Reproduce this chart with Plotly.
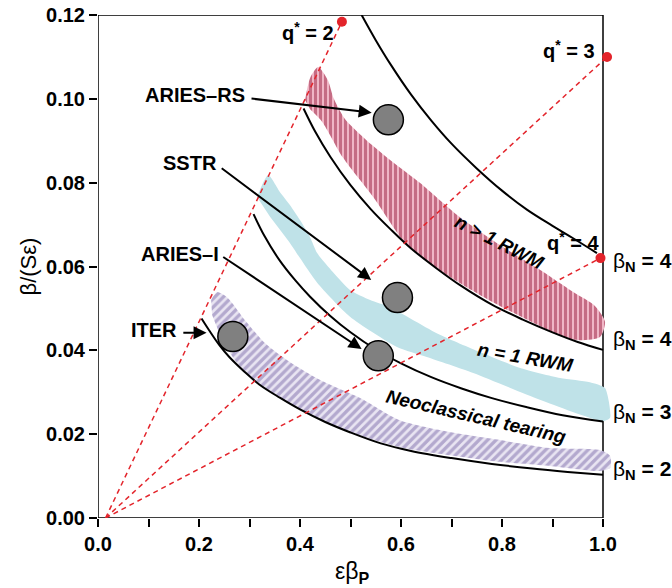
import plotly.graph_objects as go

# ---------------- data ----------------
x_tickvals = [0.0, 0.2, 0.4, 0.6, 0.8, 1.0]
x_ticktext = ["0.0", "0.2", "0.4", "0.6", "0.8", "1.0"]
y_tickvals = [0.0, 0.02, 0.04, 0.06, 0.08, 0.10, 0.12]
y_ticktext = ["0.00", "0.02", "0.04", "0.06", "0.08", "0.10", "0.12"]

# beta_N contours
bn2_x = [0.205, 0.22, 0.24, 0.26, 0.29, 0.32, 0.36, 0.40, 0.45, 0.50, 0.56, 0.62, 0.70, 0.78, 0.86, 0.93, 1.0]
bn2_y = [0.0476, 0.0448, 0.0413, 0.0384, 0.0349, 0.0318, 0.0287, 0.0259, 0.0229, 0.0204, 0.0178, 0.0160, 0.0143, 0.0129, 0.0118, 0.0110, 0.0103]
bn3_x = [0.308, 0.33, 0.36, 0.39, 0.42, 0.46, 0.50, 0.55, 0.60, 0.66, 0.72, 0.78, 0.85, 0.92, 1.0]
bn3_y = [0.0725, 0.0672, 0.0614, 0.0568, 0.0528, 0.0482, 0.0443, 0.0402, 0.0369, 0.0336, 0.0309, 0.0286, 0.0264, 0.0245, 0.0230]
bn4_x = [0.407, 0.43, 0.46, 0.50, 0.54, 0.58, 0.62, 0.67, 0.72, 0.78, 0.84, 0.90, 0.95, 1.0]
bn4_y = [0.0977, 0.0922, 0.0862, 0.0794, 0.0737, 0.0688, 0.0643, 0.0596, 0.0553, 0.0509, 0.0474, 0.0443, 0.0420, 0.0401]
bn4u_x = [0.522, 0.55, 0.58, 0.62, 0.66, 0.70, 0.75, 0.80, 0.85, 0.90, 0.94, 0.988]
bn4u_y = [0.1200, 0.1140, 0.1081, 0.1010, 0.0948, 0.0893, 0.0834, 0.0781, 0.0735, 0.0697, 0.0668, 0.0632]
bn_labels = ["β<sub><b>N</b></sub><b> = 4</b>", "β<sub><b>N</b></sub><b> = 4</b>",
             "β<sub><b>N</b></sub><b> = 3</b>", "β<sub><b>N</b></sub><b> = 2</b>"]
bn_label_y = [0.0611, 0.0424, 0.0250, 0.0115]

# q* lines
q_start = [0.015, 0.0]
q_end_x = [0.483, 1.008, 0.995]
q_end_y = [0.1184, 0.1100, 0.0620]
q_labels = ["<b>q<sup>*</sup> = 2</b>", "<b>q<sup>*</sup> = 3</b>", "<b>q<sup>*</sup> = 4</b>"]
q_label_x = [0.415, 0.933, 0.940]
q_label_y = [0.1160, 0.1118, 0.0660]

# stability bands (outline: upper edge then lower edge)
rwm_n2_x = [0.410, 0.420, 0.436, 0.455, 0.467, 0.489, 0.531, 0.588, 0.638, 0.711, 0.796, 0.875, 0.941, 0.984, 1.004,
            0.994, 0.941, 0.875, 0.782, 0.691, 0.612, 0.545, 0.485, 0.444, 0.420]
rwm_n2_y = [0.0997, 0.1050, 0.1076, 0.1045, 0.1000, 0.0952, 0.0902, 0.0845, 0.0799, 0.0723, 0.0651, 0.0592, 0.0539, 0.0506, 0.0468,
            0.0432, 0.0425, 0.0458, 0.0515, 0.0580, 0.0651, 0.0766, 0.0860, 0.0945, 0.0975]
rwm_n1_x = [0.315, 0.337, 0.360, 0.380, 0.400, 0.420, 0.434, 0.465, 0.499, 0.539, 0.578, 0.677, 0.756, 0.836, 0.915, 0.974, 1.004, 1.014,
            1.000, 0.875, 0.743, 0.651, 0.592, 0.499, 0.434, 0.400, 0.380, 0.341]
rwm_n1_y = [0.0766, 0.0818, 0.0778, 0.0747, 0.0711, 0.0670, 0.0632, 0.0587, 0.0544, 0.0520, 0.0503, 0.0437, 0.0396, 0.0358, 0.0334, 0.0324, 0.0310, 0.0239,
            0.0231, 0.0282, 0.0346, 0.0384, 0.0408, 0.0480, 0.0561, 0.0620, 0.0656, 0.0718]
ntm_x = [0.224, 0.236, 0.257, 0.291, 0.331, 0.380, 0.440, 0.519, 0.596, 0.697, 0.796, 0.895, 0.994, 1.014,
         1.014, 0.994, 0.895, 0.796, 0.697, 0.598, 0.499, 0.400, 0.321, 0.271, 0.242, 0.226]
ntm_y = [0.0520, 0.0539, 0.0525, 0.0472, 0.0417, 0.0372, 0.0329, 0.0286, 0.0234, 0.0205, 0.0186, 0.0167, 0.0162, 0.0148,
         0.0119, 0.0112, 0.0124, 0.0134, 0.0150, 0.0169, 0.0205, 0.0258, 0.0317, 0.0377, 0.0437, 0.0484]

# reactor design points
dev_names = ["ARIES–RS", "SSTR", "ARIES–I", "ITER"]
dev_x = [0.575, 0.593, 0.555, 0.267]
dev_y = [0.0950, 0.0526, 0.0387, 0.0433]
dev_label_x = [0.192, 0.182, 0.162, 0.111]
dev_label_y = [0.1009, 0.0848, 0.0630, 0.0449]
arrow_tail_x = [0.301, 0.242, 0.245, 0.166]
arrow_tail_y = [0.1001, 0.0837, 0.0625, 0.0442]
arrow_tip_x = [0.542, 0.541, 0.522, 0.215]
arrow_tip_y = [0.0967, 0.0568, 0.0403, 0.0442]

region_labels = ["<i><b>n > 1 RWM</b></i>", "<i><b>n = 1 RWM</b></i>", "<i><b>Neoclassical tearing</b></i>"]
region_x = [0.796, 0.8475, 0.7485]
region_y = [0.0658, 0.0384, 0.0241]
region_angle = [27, 10, 13]

# ---------------- figure ----------------
FONT = "Liberation Sans, Arial, sans-serif"
RED = "#e3242b"

fig = go.Figure()

fig.add_trace(go.Scatter(x=ntm_x, y=ntm_y, fill="toself", mode="lines",
                         line=dict(width=0, shape="spline", smoothing=0.7),
                         fillcolor="#b8acd4",
                         fillpattern=dict(shape="/", fgcolor="#7e6daa", bgcolor="#e9e5f2", size=6, solidity=0.55)))
fig.add_trace(go.Scatter(x=rwm_n1_x, y=rwm_n1_y, fill="toself", mode="lines",
                         line=dict(width=0, shape="spline", smoothing=0.6),
                         fillcolor="#bfe2e8"))
fig.add_trace(go.Scatter(x=rwm_n2_x, y=rwm_n2_y, fill="toself", mode="lines",
                         line=dict(width=0, shape="spline", smoothing=0.7),
                         fillcolor="#c86a84",
                         fillpattern=dict(shape="|", fgcolor="#9a2242", bgcolor="#f0b6c6", size=5, solidity=0.6)))

for cx, cy in [(bn2_x, bn2_y), (bn3_x, bn3_y), (bn4_x, bn4_y), (bn4u_x, bn4u_y)]:
    fig.add_trace(go.Scatter(x=cx, y=cy, mode="lines", line=dict(color="black", width=2, shape="spline")))

for ex, ey in zip(q_end_x, q_end_y):
    fig.add_trace(go.Scatter(x=[q_start[0], ex], y=[q_start[1], ey], mode="lines",
                             line=dict(color=RED, width=1.5, dash="5px,4px")))
fig.add_trace(go.Scatter(x=q_end_x, y=q_end_y, mode="markers", cliponaxis=False,
                         marker=dict(color=RED, size=10)))

fig.add_trace(go.Scatter(x=dev_x, y=dev_y, mode="markers",
                         marker=dict(color="#808080", size=30, line=dict(color="black", width=1.5))))

annotations = []
for name, lx, ly in zip(dev_names, dev_label_x, dev_label_y):
    annotations.append(dict(x=lx, y=ly, xref="x", yref="y", text="<b>" + name + "</b>", showarrow=False,
                            font=dict(size=20, color="black", family=FONT)))
for tx, ty, hx, hy in zip(arrow_tail_x, arrow_tail_y, arrow_tip_x, arrow_tip_y):
    annotations.append(dict(x=hx, y=hy, ax=tx, ay=ty, xref="x", yref="y", axref="x", ayref="y", text="",
                            showarrow=True, arrowhead=2, arrowsize=1.3, arrowwidth=2, arrowcolor="black"))
for t, lx, ly in zip(q_labels, q_label_x, q_label_y):
    annotations.append(dict(x=lx, y=ly, xref="x", yref="y", text=t, showarrow=False,
                            font=dict(size=20, color="black", family=FONT)))
for t, ly in zip(bn_labels, bn_label_y):
    annotations.append(dict(x=(611 - 98) / 520, y=ly, xref="paper", yref="y", text=t, showarrow=False,
                            xanchor="left", yanchor="middle", font=dict(size=21, color="black", family=FONT)))
for t, lx, ly, ang in zip(region_labels, region_x, region_y, region_angle):
    annotations.append(dict(x=lx, y=ly, xref="x", yref="y", text=t, showarrow=False, textangle=ang,
                            font=dict(size=19, color="black", family=FONT)))
annotations.append(dict(x=(28 - 98) / 520, y=0.5, xref="paper", yref="paper", text="β/(Sε)", showarrow=False,
                        xanchor="center", yanchor="middle",
                        textangle=-90, font=dict(size=22, color="black", family=FONT)))
annotations.append(dict(x=(352 - 98) / 520, y=(518 - 572) / 503, xref="paper", yref="paper",
                        text="εβ<sub><b>P</b></sub>", showarrow=False, xanchor="center", yanchor="middle",
                        font=dict(size=23, color="black", family=FONT)))

fig.update_layout(
    width=672, height=588,
    margin=dict(l=98, r=54, t=15, b=70, autoexpand=False),
    paper_bgcolor="white", plot_bgcolor="white",
    showlegend=False, hovermode=False,
    annotations=annotations,
    shapes=[dict(type="rect", xref="x", yref="y", x0=0, x1=1.0, y0=0, y1=0.12,
                 line=dict(color="black", width=1.5), layer="below")],
    xaxis=dict(range=[0, 520 / 505], showgrid=False, zeroline=False, showline=False, automargin=False,
               tickmode="array", tickvals=x_tickvals, ticktext=x_ticktext,
               ticks="outside", ticklen=8, tickwidth=1.5, tickcolor="black",
               minor=dict(tickmode="array", tickvals=[0.1, 0.3, 0.5, 0.7, 0.9], ticks="outside",
                          ticklen=8, tickwidth=1.5, tickcolor="black", showgrid=False),
               tickfont=dict(size=20, color="black", family=FONT, weight="bold")),
    yaxis=dict(range=[0, 0.12], showgrid=False, zeroline=False, showline=False, automargin=False,
               tickmode="array", tickvals=y_tickvals, ticktext=y_ticktext,
               ticks="outside", ticklen=8, tickwidth=1.5, tickcolor="black",
               tickfont=dict(size=20, color="black", family=FONT, weight="bold")),
)

fig.write_html("out.html", config={"displayModeBar": False},
               post_script="document.body.style.margin='0px';document.body.style.overflow='hidden';")
